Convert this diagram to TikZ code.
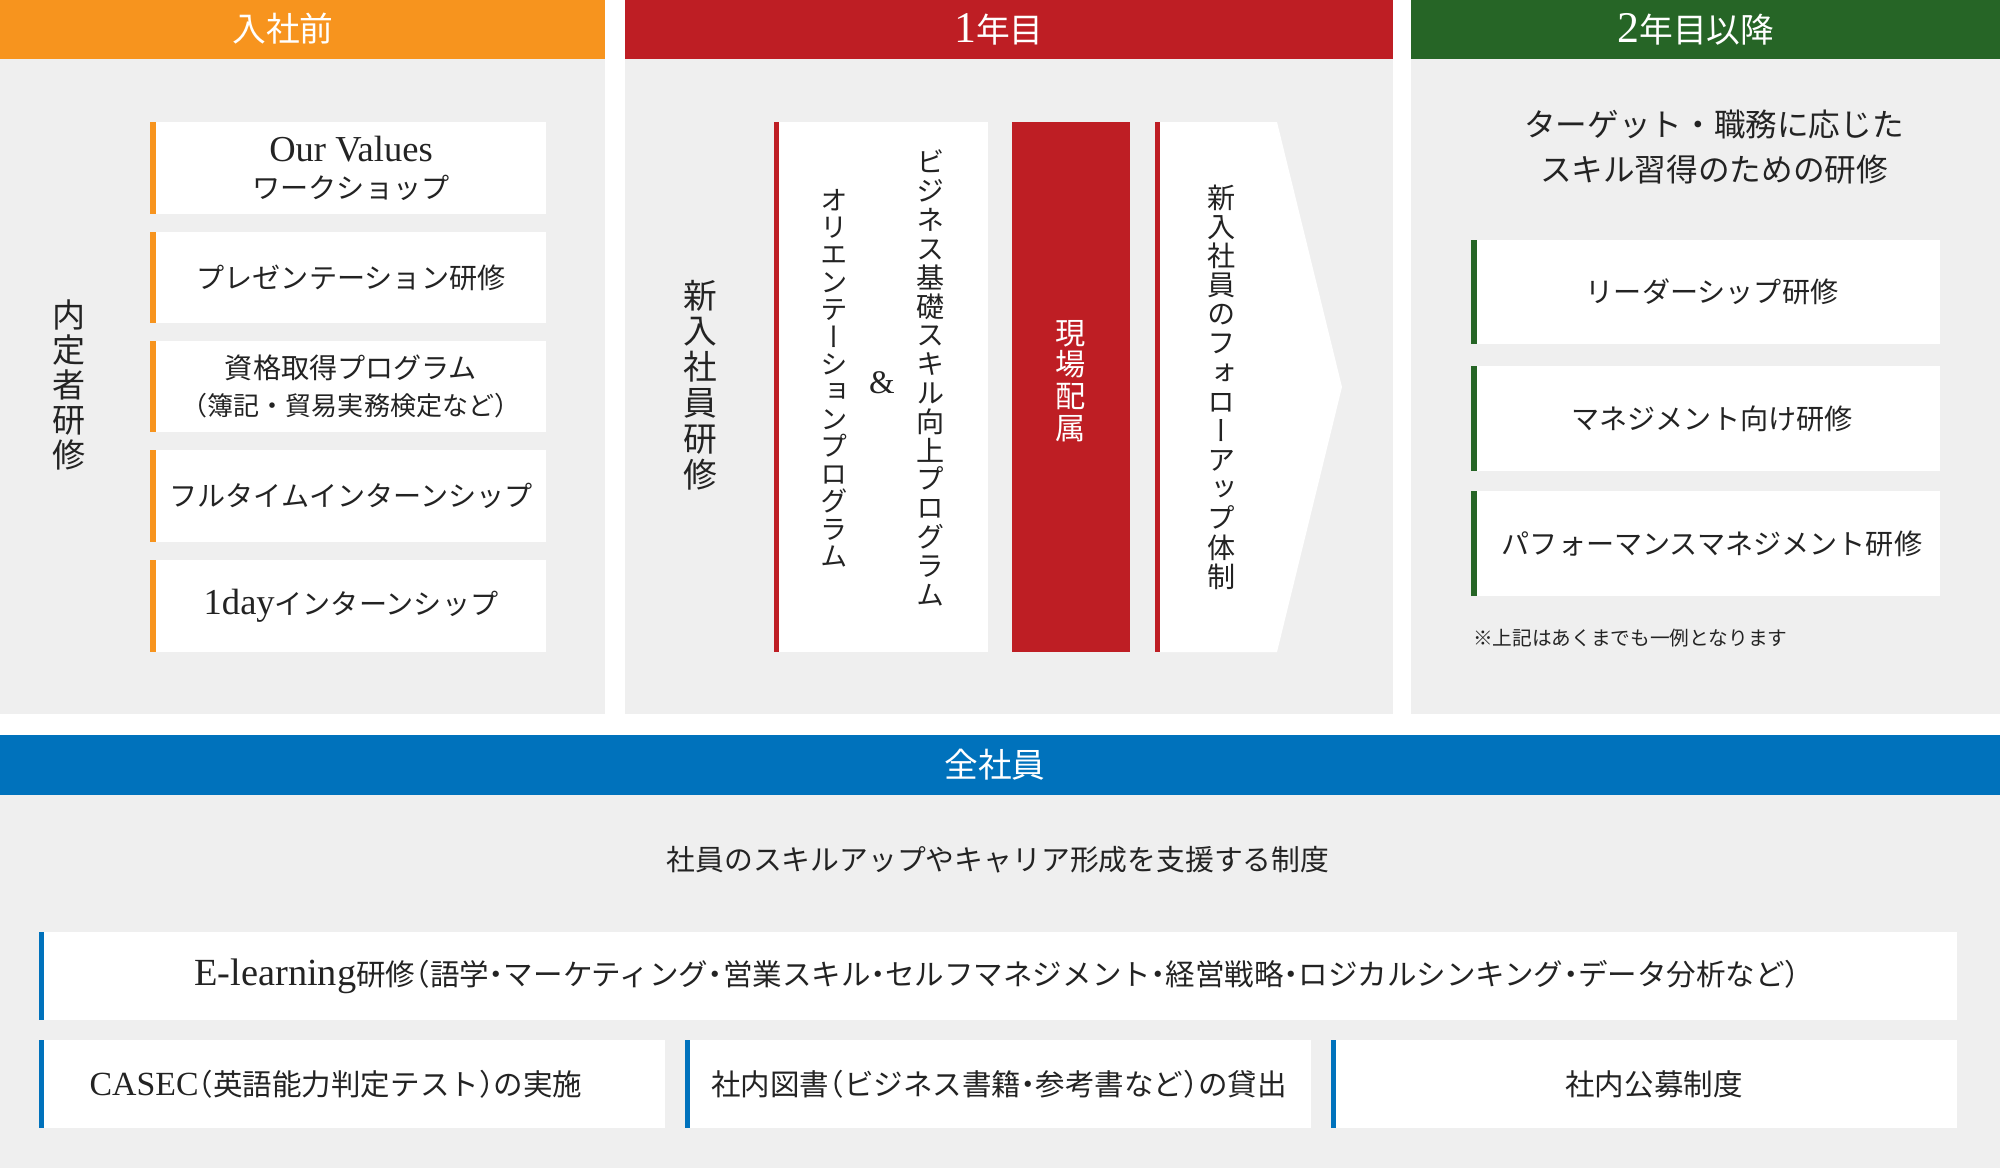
\documentclass[tikz,border=0pt]{standalone}
\usepackage{fontspec}
\setmainfont{Noto Sans CJK JP}
\newfontfamily\vjp[RawFeature=+vert]{Noto Sans CJK JP}
\newfontfamily\lat[Scale=1.3]{Liberation Serif}
\usepackage{xcolor}
\definecolor{preorange}{RGB}{247,148,30}
\definecolor{firstred}{RGB}{190,30,36}
\definecolor{latergreen}{RGB}{38,101,38}
\definecolor{allblue}{RGB}{0,114,188}
\definecolor{panelgray}{RGB}{239,239,239}
\definecolor{inkgray}{RGB}{35,35,35}

\begin{document}
\begin{tikzpicture}[x=0.05cm, y=-0.05cm,
  header/.style={text=white, font=\fontsize{48}{52}\selectfont},
  cardtext/.style={text=inkgray, align=center, font=\fontsize{40}{53}\selectfont},
  halfpunct/.style={cardtext, font=\fontsize{42}{53}\selectfont\addfontfeature{RawFeature=+halt}},
  vtext/.style={text=inkgray, align=center, inner sep=0pt}]
\useasboundingbox (0,0) rectangle (2000,1168);
% Panels
\fill[panelgray] (0,59) rectangle (605,714);
\fill[panelgray] (625,59) rectangle (1393,714);
\fill[panelgray] (1411,59) rectangle (2000,714);
\fill[panelgray] (0,795) rectangle (2000,1168);
% Headers
\fill[preorange] (0,0) rectangle (605,59);
\fill[firstred] (625,0) rectangle (1393,59);
\fill[latergreen] (1411,0) rectangle (2000,59);
\fill[allblue] (0,735) rectangle (2000,795);
\node[header] (before) at (283,29) {入社前};
\node[header] (year1) at (999,29) {{\lat 1}年目};
\node[header] (year2) at (1696,29) {{\lat 2}年目以降};
\node[header] (everyone) at (995,765) {全社員};

% Before joining
\node[vtext, font=\vjp\fontsize{47}{50}\selectfont] (naitei) at (69,385) {内\\定\\者\\研\\修};
\foreach \t/\b/\n/\txt in {122/214/values/{{\lat Our Values}\\ワークショップ},
    232/323/pres/プレゼンテーション研修,
    341/432/cert/{資格取得プログラム\\{\fontsize{37}{40}\selectfont（簿記・貿易実務検定など）}},
    450/542/full/フルタイムインターンシップ,
    560/652/oneday/{{\lat 1day}インターンシップ}} {
  \fill[white] (156,\t) rectangle (546,\b);
  \fill[preorange] (150,\t) rectangle (156,\b);
  \node[cardtext] (\n) at (351,{(\t+\b)/2}) {\txt};
}

% First year
\node[vtext, font=\vjp\fontsize{48}{51}\selectfont] (shinnyu) at (700,385) {新\\入\\社\\員\\研\\修};
\fill[white] (779,122) rectangle (988,652);
\fill[firstred] (774,122) rectangle (779,652);
\node[vtext, font=\vjp\fontsize{40}{41}\selectfont] (business) at (931,378) {ビ\\ジ\\ネ\\ス\\基\\礎\\ス\\キ\\ル\\向\\上\\プ\\ロ\\グ\\ラ\\ム};
\node[vtext, font=\lat\fontsize{36}{40}\selectfont] (and) at (882,383) {\&};
\node[vtext, font=\vjp\fontsize{39}{39}\selectfont] (orient) at (834,378) {オ\\リ\\エ\\ン\\テ\\ー\\シ\\ョ\\ン\\プ\\ロ\\グ\\ラ\\ム};
\fill[firstred] (1012,122) rectangle (1130,652);
\node[vtext, text=white, font=\vjp\fontsize{43}{45}\selectfont] (genba) at (1071,381) {現\\場\\配\\属};
\fill[white] (1160,122) -- (1277,122) -- (1342,387) -- (1277,652) -- (1160,652) -- cycle;
\fill[firstred] (1155,122) rectangle (1160,652);
\node[vtext, font=\vjp\fontsize{40}{41.5}\selectfont] (follow) at (1222,387) {新\\入\\社\\員\\の\\フ\\ォ\\ロ\\ー\\ア\\ッ\\プ\\体\\制};

% Second year onward
\node[cardtext, font=\fontsize{45}{65}\selectfont] (target) at (1714,147) {ターゲット・職務に応じた\\スキル習得のための研修};
\foreach \t/\b/\n/\txt in {240/344/leader/リーダーシップ研修,
    366/471/manage/マネジメント向け研修,
    491/596/perform/パフォーマンスマネジメント研修} {
  \fill[white] (1477,\t) rectangle (1940,\b);
  \fill[latergreen] (1471,\t) rectangle (1477,\b);
  \node[cardtext] (\n) at (1712,{(\t+\b)/2}) {\txt};
}
\node[text=inkgray, anchor=west, inner sep=0pt, font=\fontsize{28}{32}\selectfont] (note) at (1473,638) {※上記はあくまでも一例となります};

% All employees
\node[cardtext, font=\fontsize{41}{48}\selectfont] (support) at (998,860) {社員のスキルアップやキャリア形成を支援する制度};
\foreach \l/\r/\t/\b/\tx/\n/\txt in {39/1957/932/1020/997/elearn/{{\lat E-learning}研修（語学・マーケティング・営業スキル・セルフマネジメント・経営戦略・ロジカルシンキング・データ分析など）},
    39/665/1040/1128/336/casec/{{\lat\fontsize{37}{53}\selectfont CASEC}（英語能力判定テスト）の実施},
    685/1311/1040/1128/999/books/社内図書（ビジネス書籍・参考書など）の貸出,
    1331/1957/1040/1128/1654/recruit/社内公募制度} {
  \fill[white] (\l,\t) rectangle (\r,\b);
  \fill[allblue] (\l,\t) rectangle ({\l+5},\b);
  \node[halfpunct] (\n) at (\tx,{(\t+\b)/2}) {\txt};
}
\end{tikzpicture}
\end{document}
